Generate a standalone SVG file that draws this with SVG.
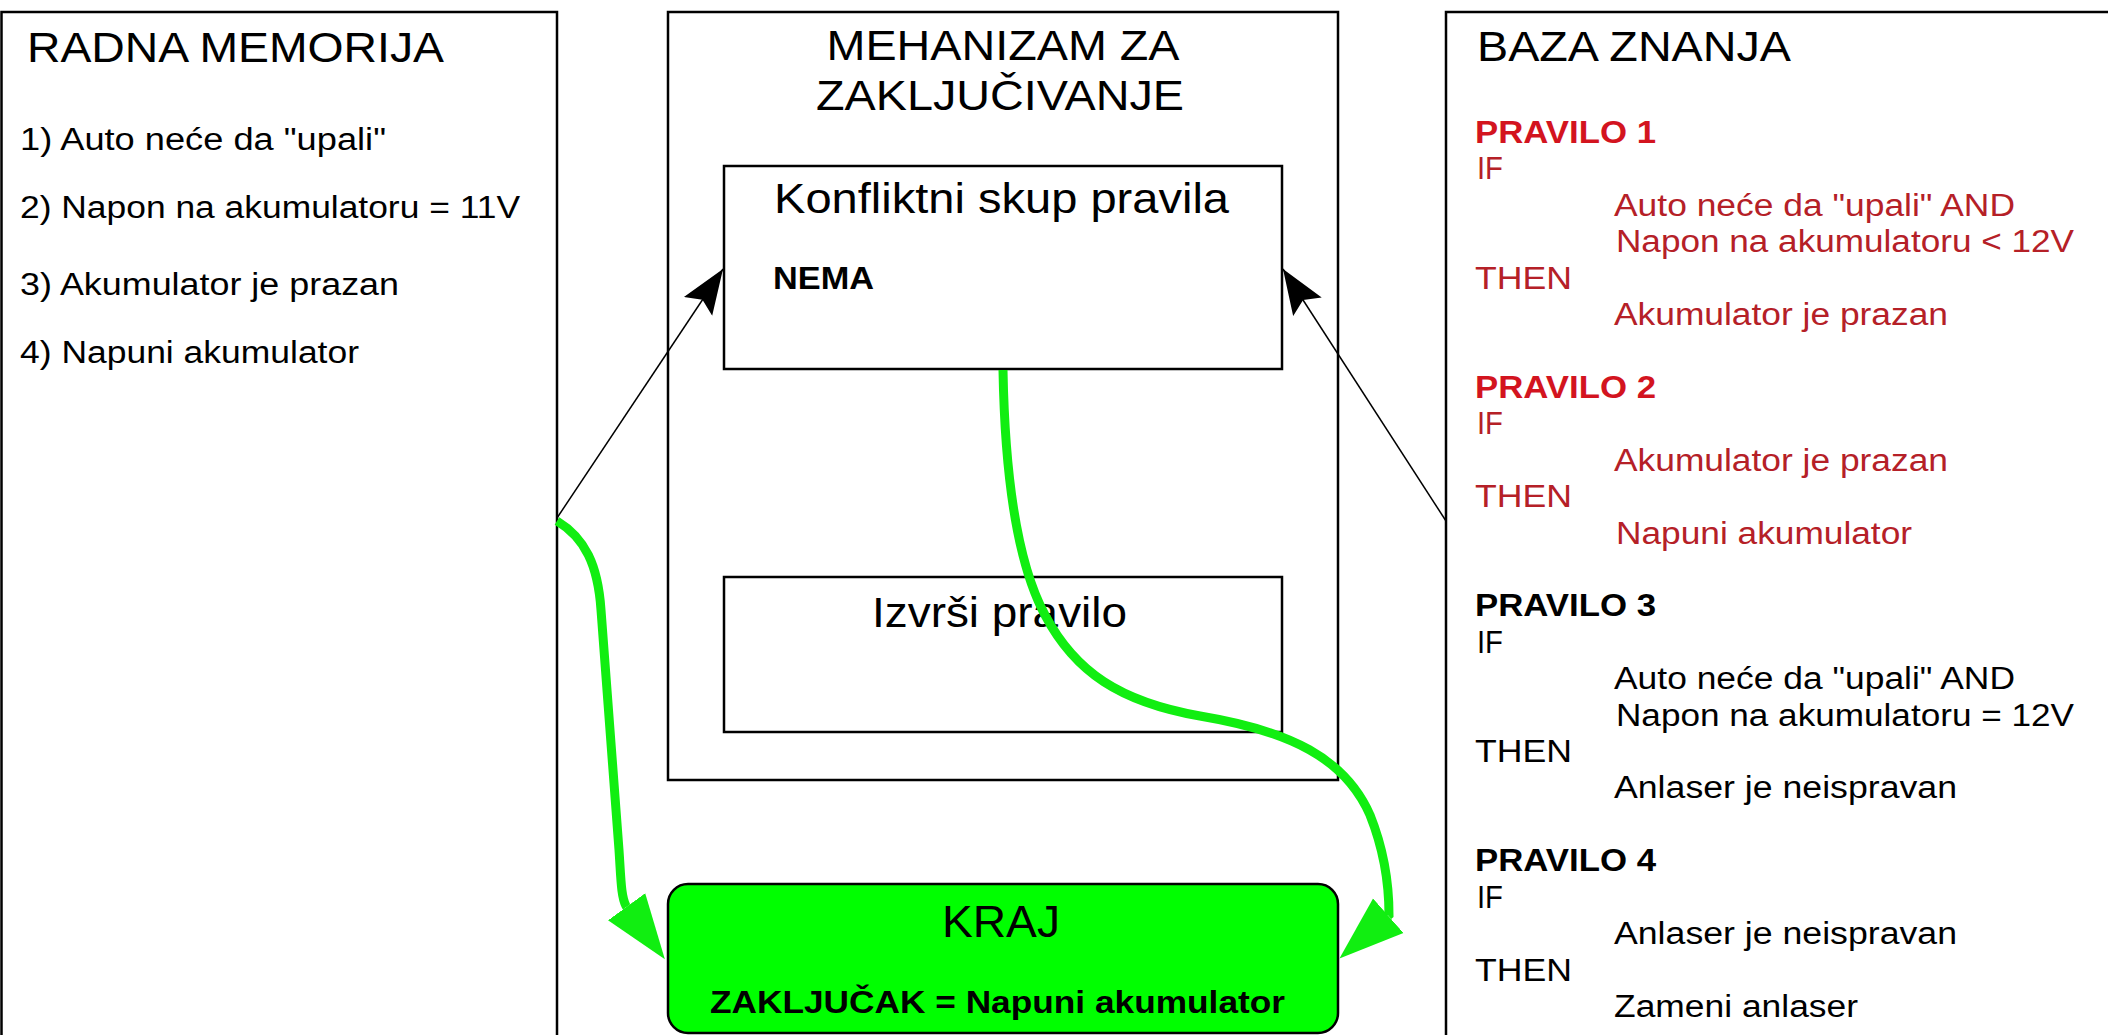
<svg xmlns="http://www.w3.org/2000/svg" width="2108" height="1035" viewBox="0 0 2108 1035">
  <defs>
    <style>
      .box { fill: #ffffff; stroke: #000000; stroke-width: 2.5; }
      .t { font-family: "Liberation Sans", Arial, sans-serif; fill: #000000; lengthAdjust: spacingAndGlyphs; }
      .h { font-size: 42px; }
      .b { font-size: 31px; }
      .bb { font-size: 31px; font-weight: bold; }
      .red { fill: #b52027; }
      .redb { fill: #d3141f; }
      .thin { fill: none; stroke: #000000; stroke-width: 1.5; }
      .green { fill: none; stroke: #11ee11; stroke-width: 9; }
    </style>
    <marker id="blackHead" markerUnits="userSpaceOnUse" markerWidth="46" markerHeight="36" viewBox="0 -18 46 36" refX="45" refY="0" orient="auto">
      <path d="M0,-17 L45,0 L0,17 L8,0 z" fill="#000000"/>
    </marker>
    <marker id="greenHead" markerUnits="userSpaceOnUse" markerWidth="66" markerHeight="48" viewBox="0 -24 66 48" refX="0" refY="0" orient="auto">
      <path d="M0,-23 L65,0 L0,23 z" fill="#11ee11"/>
    </marker>
  </defs>

  <rect x="0" y="0" width="2108" height="1035" fill="#ffffff"/>

  <g id="node-radna-memorija">
    <rect class="box" x="1.5" y="12" width="555.5" height="1100"/>
    <text class="t h" x="27" y="62" textLength="417" lengthAdjust="spacingAndGlyphs">RADNA MEMORIJA</text>
    <text class="t b" x="20" y="150" textLength="366" lengthAdjust="spacingAndGlyphs">1) Auto neće da "upali"</text>
    <text class="t b" x="20" y="218" textLength="500" lengthAdjust="spacingAndGlyphs">2) Napon na akumulatoru = 11V</text>
    <text class="t b" x="20" y="295" textLength="379" lengthAdjust="spacingAndGlyphs">3) Akumulator je prazan</text>
    <text class="t b" x="20" y="363" textLength="339" lengthAdjust="spacingAndGlyphs">4) Napuni akumulator</text>
  </g>

  <g id="node-mehanizam">
    <rect class="box" x="668" y="12" width="670" height="768"/>
    <text class="t h" x="1003" y="60" text-anchor="middle" textLength="353" lengthAdjust="spacingAndGlyphs">MEHANIZAM ZA</text>
    <text class="t h" x="1000" y="110" text-anchor="middle" textLength="368" lengthAdjust="spacingAndGlyphs">ZAKLJUČIVANJE</text>
  </g>

  <g id="node-konfliktni-skup">
    <rect class="box" x="724" y="166" width="558" height="203"/>
    <text class="t h" x="774" y="213" textLength="455" lengthAdjust="spacingAndGlyphs">Konfliktni skup pravila</text>
    <text class="t bb" x="773" y="289" textLength="101" lengthAdjust="spacingAndGlyphs">NEMA</text>
  </g>

  <g id="node-izvrsi">
    <rect class="box" x="724" y="577" width="558" height="155"/>
    <text class="t h" x="872" y="627" textLength="255" lengthAdjust="spacingAndGlyphs">Izvrši pravilo</text>
  </g>

  <g id="node-kraj">
    <rect x="668" y="884" width="670" height="149" rx="20" ry="20" fill="#00ff00" stroke="#000000" stroke-width="2.5"/>
    <text class="t" x="942" y="937" font-size="44" textLength="118" lengthAdjust="spacingAndGlyphs">KRAJ</text>
    <text class="t" x="710" y="1013" font-size="32" font-weight="bold" textLength="575" lengthAdjust="spacingAndGlyphs">ZAKLJUČAK = Napuni akumulator</text>
  </g>

  <g id="node-baza-znanja">
    <rect class="box" x="1446" y="12" width="700" height="1100"/>
    <text class="t h" x="1477" y="61" textLength="314" lengthAdjust="spacingAndGlyphs">BAZA ZNANJA</text>

    <text class="t bb redb" x="1475" y="143" textLength="181" lengthAdjust="spacingAndGlyphs">PRAVILO 1</text>
    <text class="t b red" x="1477" y="179" textLength="26" lengthAdjust="spacingAndGlyphs">IF</text>
    <text class="t b red" x="1614" y="216" textLength="401" lengthAdjust="spacingAndGlyphs">Auto neće da "upali" AND</text>
    <text class="t b red" x="1616" y="252" textLength="458" lengthAdjust="spacingAndGlyphs">Napon na akumulatoru &lt; 12V</text>
    <text class="t b red" x="1475" y="289" textLength="97" lengthAdjust="spacingAndGlyphs">THEN</text>
    <text class="t b red" x="1614" y="325" textLength="334" lengthAdjust="spacingAndGlyphs">Akumulator je prazan</text>

    <text class="t bb redb" x="1475" y="398" textLength="181" lengthAdjust="spacingAndGlyphs">PRAVILO 2</text>
    <text class="t b red" x="1477" y="434" textLength="26" lengthAdjust="spacingAndGlyphs">IF</text>
    <text class="t b red" x="1614" y="471" textLength="334" lengthAdjust="spacingAndGlyphs">Akumulator je prazan</text>
    <text class="t b red" x="1475" y="507" textLength="97" lengthAdjust="spacingAndGlyphs">THEN</text>
    <text class="t b red" x="1616" y="544" textLength="296" lengthAdjust="spacingAndGlyphs">Napuni akumulator</text>

    <text class="t bb" x="1475" y="616" textLength="181" lengthAdjust="spacingAndGlyphs">PRAVILO 3</text>
    <text class="t b" x="1477" y="653" textLength="26" lengthAdjust="spacingAndGlyphs">IF</text>
    <text class="t b" x="1614" y="689" textLength="401" lengthAdjust="spacingAndGlyphs">Auto neće da "upali" AND</text>
    <text class="t b" x="1616" y="726" textLength="458" lengthAdjust="spacingAndGlyphs">Napon na akumulatoru = 12V</text>
    <text class="t b" x="1475" y="762" textLength="97" lengthAdjust="spacingAndGlyphs">THEN</text>
    <text class="t b" x="1614" y="798" textLength="343" lengthAdjust="spacingAndGlyphs">Anlaser je neispravan</text>

    <text class="t bb" x="1475" y="871" textLength="181" lengthAdjust="spacingAndGlyphs">PRAVILO 4</text>
    <text class="t b" x="1477" y="908" textLength="26" lengthAdjust="spacingAndGlyphs">IF</text>
    <text class="t b" x="1614" y="944" textLength="343" lengthAdjust="spacingAndGlyphs">Anlaser je neispravan</text>
    <text class="t b" x="1475" y="981" textLength="97" lengthAdjust="spacingAndGlyphs">THEN</text>
    <text class="t b" x="1614" y="1017" textLength="244" lengthAdjust="spacingAndGlyphs">Zameni anlaser</text>
  </g>

  <g id="connectors">
    <path class="thin" d="M557,518 L723,269" marker-end="url(#blackHead)"/>
    <path class="thin" d="M1446,521 L1283,269" marker-end="url(#blackHead)"/>
    <path class="green" d="M557,521 C585,538 598,565 601,610 L619,850 C621,880 621,896 626,906 l0.59,0.81" marker-end="url(#greenHead)"/>
    <path class="green" d="M1003,370 C1005,480 1018,565 1045,615 C1075,672 1120,702 1200,716 C1290,731 1345,758 1370,815 C1384,850 1389,885 1389,915 l-0.75,0.66" marker-end="url(#greenHead)"/>
  </g>
</svg>
